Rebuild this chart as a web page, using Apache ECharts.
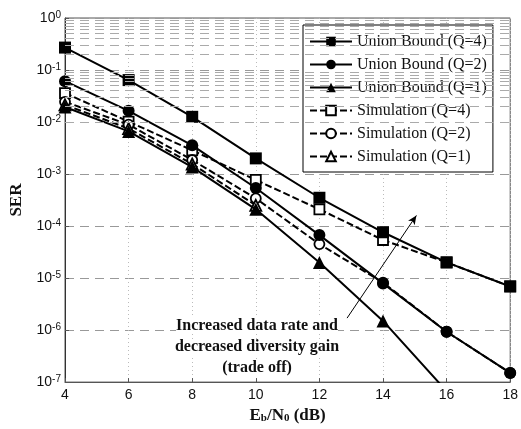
<!DOCTYPE html>
<html>
<head>
<meta charset="utf-8">
<script src="https://cdn.jsdelivr.net/npm/echarts@6/dist/echarts.min.js"></script>
<style>
  html, body { margin: 0; padding: 0; background: #fff; }
  #serChart { width: 521px; height: 429px; }
</style>
</head>
<body>
<div id="serChart"></div>
<script>
// Eb/N0 (dB)
const snrDb = [4, 6, 8, 10, 12, 14, 16, 18];

// union bound curves
const ubQ4 = [0.27, 0.064, 0.0126, 0.002, 3.5e-4, 7.6e-5, 2.0e-5, 6.9e-6];
const ubQ2 = [0.061, 0.0164, 0.00356, 5.4e-4, 6.7e-5, 7.9e-6, 9.3e-7, 1.5e-7];
const ubQ1 = [0.0195, 0.0066, 0.00136, 2.1e-4, 2.0e-5, 1.5e-6, 6.7e-8, null];

// simulation curves
const simQ4 = [0.036, 0.0102, 0.00286, 7.7e-4, 2.1e-4, 5.4e-5, 2.0e-5, 6.9e-6];
const simQ2 = [0.0245, 0.0089, 0.00186, 3.4e-4, 4.5e-5, 8.2e-6, 9.3e-7, 1.5e-7];
const simQ1 = [0.0214, 0.0075, 0.00156, 2.5e-4, null, null, null, null];

// minor log grid (2..9 x 10^k)
const gridMantissas = [2, 3, 4, 5, 6, 7, 8, 9];
const gridDecades = [-7, -6, -5, -4, -3, -2, -1];

// arrow of the annotation [Eb/N0, SER]
const arrowFrom = [12.87, 1.7e-6];
const arrowTo = [15.05, 1.6e-4];

const annotationLines = ['Increased data rate and', 'decreased diversity gain', '(trade off)'];

function pairs(ys) {
  return snrDb.map((x, i) => [x, ys[i]]);
}

let minorLines = [];
gridDecades.forEach(d => {
  gridMantissas.forEach(m => {
    minorLines.push({ yAxis: m * Math.pow(10, d) });
  });
});

const serif = '"Liberation Serif", "Times New Roman", serif';
const sans = '"Liberation Sans", Arial, sans-serif';

function curve(name, ys, symbol, size, open, dashed) {
  return {
    name: name,
    type: 'line',
    data: pairs(ys),
    symbol: symbol,
    symbolSize: size,
    showAllSymbol: true,
    connectNulls: false,
    z: open ? 2 : 3,
    lineStyle: { color: '#000', width: 2, type: dashed ? [7, 3] : 'solid' },
    itemStyle: {
      color: open ? '#fff' : '#000',
      borderColor: '#000',
      borderWidth: open ? 1.8 : 0
    },
    emphasis: { disabled: true }
  };
}

let myChart = echarts.init(document.getElementById('serChart'));

myChart.setOption({
  animation: false,
  backgroundColor: '#fff',
  grid: {
    left: 63, top: 18, right: 8, bottom: 42,
    show: true, borderColor: '#555', borderWidth: 1
  },
  legend: {
    orient: 'vertical',
    left: 303, top: 25,
    padding: [8, 6, 7, 6],
    itemGap: 6,
    itemWidth: 42,
    itemHeight: 12,
    backgroundColor: '#fff',
    borderColor: '#000',
    borderWidth: 1,
    borderRadius: 0,
    textStyle: { fontFamily: serif, fontSize: 16, color: '#111', lineHeight: 17 },
    data: ['Union Bound (Q=4)', 'Union Bound (Q=2)', 'Union Bound (Q=1)',
           'Simulation (Q=4)', 'Simulation (Q=2)', 'Simulation (Q=1)']
  },
  xAxis: {
    type: 'value',
    min: 4, max: 18, interval: 2,
    name: 'E{sub|b}/N{sub|0} (dB)',
    nameLocation: 'middle',
    nameGap: 24,
    nameTextStyle: {
      fontFamily: serif, fontSize: 17, fontWeight: 'bold', color: '#111',
      rich: {
        sub: { fontFamily: serif, fontSize: 11, fontWeight: 'bold', verticalAlign: 'bottom', lineHeight: 4 }
      }
    },
    axisLine: { lineStyle: { color: '#555', width: 1 } },
    axisTick: { inside: true, length: 4, lineStyle: { color: '#555' } },
    axisLabel: { fontFamily: sans, fontSize: 14, color: '#111', margin: 6 },
    splitLine: { show: true, lineStyle: { color: '#bbb', type: [1, 3], width: 1 } }
  },
  yAxis: {
    type: 'log',
    logBase: 10,
    min: 1e-7, max: 1,
    name: 'SER',
    nameLocation: 'middle',
    nameGap: 40,
    nameTextStyle: { fontFamily: serif, fontSize: 17, fontWeight: 'bold', color: '#111' },
    axisLine: { show: true, lineStyle: { color: '#333', width: 1 } },
    axisTick: { show: true, inside: true, length: 4, lineStyle: { color: '#555' } },
    axisLabel: {
      margin: 4,
      formatter: function (v) {
        let e = Math.round(Math.log10(v));
        return '{base|10}{sup|' + e + '}';
      },
      rich: {
        base: { fontFamily: sans, fontSize: 14, color: '#111', lineHeight: 16 },
        sup: { fontFamily: sans, fontSize: 10, color: '#111', lineHeight: 2, verticalAlign: 'top' }
      }
    },
    splitLine: { show: true, lineStyle: { color: '#999', type: [9, 6], width: 1 } }
  },
  series: [
    curve('Union Bound (Q=4)', ubQ4, 'rect', 12, false, false),
    curve('Union Bound (Q=2)', ubQ2, 'circle', 12, false, false),
    curve('Union Bound (Q=1)', ubQ1, 'triangle', 13, false, false),
    curve('Simulation (Q=4)', simQ4, 'rect', 10, true, true),
    curve('Simulation (Q=2)', simQ2, 'circle', 10, true, true),
    curve('Simulation (Q=1)', simQ1, 'triangle', 11, true, true),
    {
      // grid lines
      name: 'deco',
      type: 'line',
      data: [],
      z: 1,
      markLine: {
        silent: true,
        symbol: 'none',
        label: { show: false },
        lineStyle: { color: '#aaa', type: [9, 6], width: 1 },
        data: minorLines
      }
    },
    {
      // arrow of the note
      name: 'arrow',
      type: 'line',
      data: [],
      z: 4,
      markLine: {
        silent: true,
        symbol: ['none', 'arrow'],
        symbolSize: [6, 9],
        label: { show: false },
        lineStyle: { color: '#000', type: 'solid', width: 1 },
        data: [[{ coord: arrowFrom }, { coord: arrowTo }]]
      }
    }
  ],
  graphic: annotationLines.map((t, i) => ({
    type: 'text',
    x: 257,
    y: 326 + i * 21,
    z: 10,
    style: {
      text: t,
      fill: '#111',
      font: 'bold 16px ' + serif,
      textAlign: 'center',
      textVerticalAlign: 'middle',
      backgroundColor: '#fff'
    }
  }))
});
</script>
</body>
</html>
